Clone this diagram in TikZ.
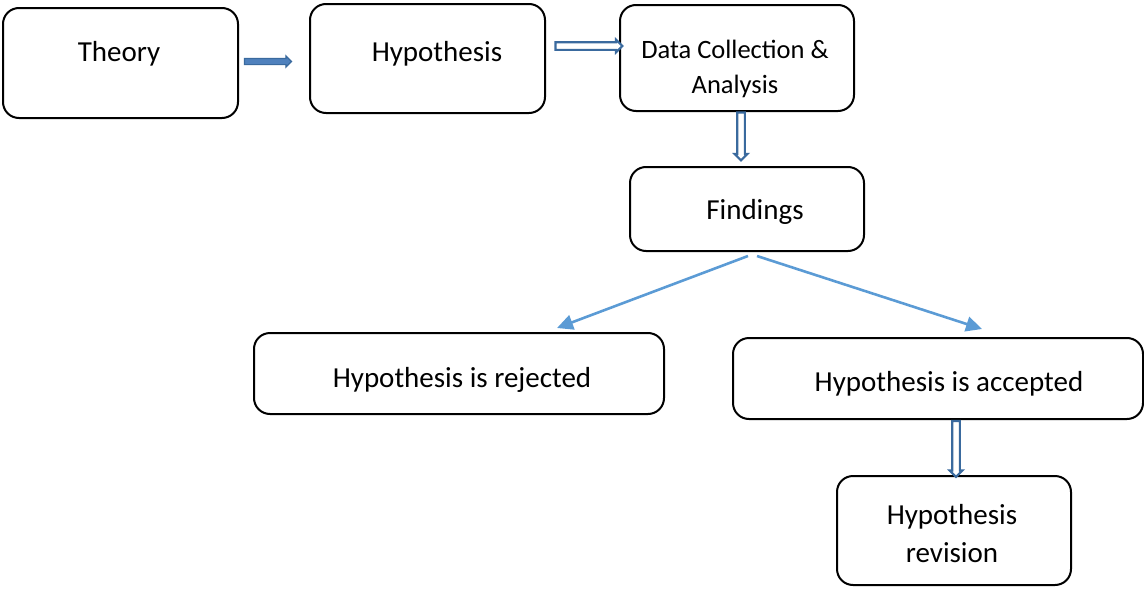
\documentclass[tikz,border=0pt]{standalone}
\usepackage{fontspec}
\setmainfont{Carlito}
\usetikzlibrary{calc,arrows.meta,shapes.arrows}
\definecolor{blockblue}{HTML}{4F81BD}
\definecolor{blockedge}{HTML}{3A6A9E}
\definecolor{linkblue}{HTML}{5B9BD5}
\begin{document}
\begin{tikzpicture}[x=1pt,y=-1pt,
  box/.style={draw=black, line width=2pt, rounded corners=16pt, inner sep=0pt},
  lbl/.style={font=\fontsize{29}{38}\selectfont, align=center, inner sep=0pt},
  sml/.style={font=\fontsize{26.5}{35}\selectfont, align=center, inner sep=0pt},
  solidarrow/.style={single arrow, draw=blockedge, fill=blockblue, line width=1.2pt,
    inner sep=0pt, text height=5pt, text depth=0pt, minimum width=0pt,
    single arrow head extend=2.5pt, single arrow head indent=0pt},
  hollowarrow/.style={single arrow, draw=blockedge, fill=white, line width=2.2pt,
    inner sep=0pt, text height=5.5pt, text depth=0pt, minimum width=0pt,
    single arrow head extend=2.5pt, single arrow head indent=0pt},
  link/.style={draw=linkblue, line width=2.6pt, -{Triangle[length=16pt,width=15pt]}}
]
\useasboundingbox (0,0) rectangle (1144,589);

% boxes
\node[box, minimum width=235pt, minimum height=110pt] (theory) at (120.5,63) {};
\node[box, minimum width=235pt, minimum height=109pt] (hyp) at (427.5,58.5) {};
\node[box, minimum width=234pt, minimum height=106pt] (data) at (737,58) {};
\node[box, minimum width=234pt, minimum height=84pt] (find) at (747,209) {};
\node[box, minimum width=410pt, minimum height=81pt] (rej) at (459,373.5) {};
\node[box, minimum width=410pt, minimum height=81pt] (acc) at (938,378.5) {};
\node[box, minimum width=234pt, minimum height=109pt] (rev) at (954,530.5) {};

% texts
\node[lbl] (ttheory) at (119,54) {Theory};
\node[lbl] (thyp) at (437,54) {Hypothesis};
\node[sml] (tdata) at (735,69) {Data Collection \&\\Analysis};
\node[lbl] (tfind) at (755,212) {Findings};
\node[lbl] (trej) at (462,380) {Hypothesis is rejected};
\node[lbl] (tacc) at (949,384) {Hypothesis is accepted};
\node[lbl] (trev) at (952,534) {Hypothesis\\revision};

% block arrows
\node[solidarrow, minimum height=47pt] (a1) at (266.5,61.5) {};
\node[hollowarrow, minimum height=67pt] (a2) at (587,46) {};
\node[hollowarrow, minimum height=48pt, rotate=-90] (a3) at (741,134.5) {};
\node[hollowarrow, minimum height=56pt, rotate=-90] (a4) at (956,447) {};

% diverging links
\draw[link] ($(find.south)+(1,4)$) -- ($(rej.north)+(98,-4)$);
\draw[link] ($(find.south)+(10,4)$) -- ($(acc.north)+(44,-8)$);
\end{tikzpicture}
\end{document}
